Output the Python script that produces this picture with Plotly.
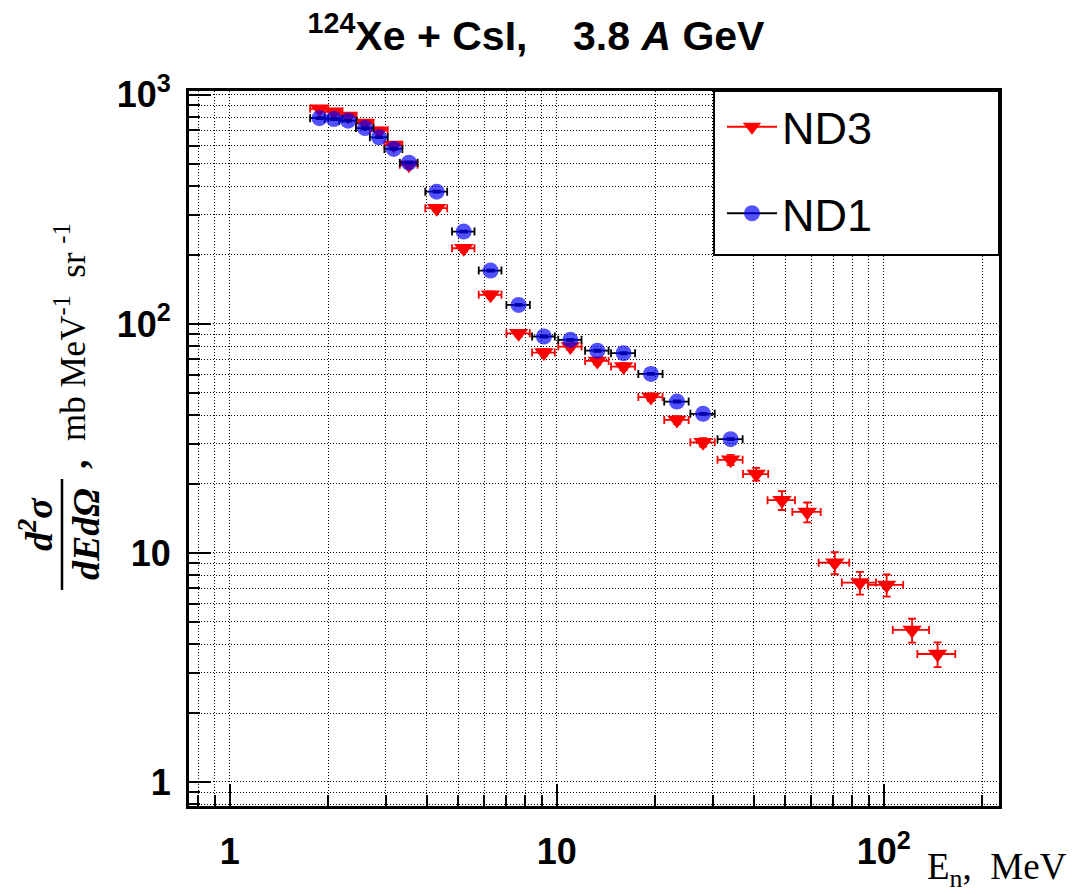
import plotly.graph_objects as go

# ---------------- data ----------------
nd3_x = [1.88, 2.08, 2.30, 2.59, 2.86, 3.17, 3.53, 4.29, 5.19, 6.27, 7.64, 9.13, 11.0, 13.3,
         16.0, 19.4, 23.3, 28.0, 34.0, 40.7, 48.8, 58.3, 70.8, 84.5, 102, 122, 146]
nd3_y = [869, 844, 809, 754, 698, 605, 495, 320, 214, 134, 91.0, 75.0, 79.6, 68.9,
         65.1, 47.9, 38.1, 30.4, 25.5, 22.1, 17.0, 15.1, 9.07, 7.42, 7.25, 4.61, 3.62]
nd3_ex = [0.12, 0.13, 0.14, 0.16, 0.18, 0.20, 0.22, 0.33, 0.41, 0.50, 0.63, 0.73, 0.90, 1.1,
          1.35, 1.65, 2.0, 2.4, 3.0, 3.6, 4.7, 5.8, 7.6, 10.1, 12.6, 15.5, 19.4]
nd3_ey = [25, 25, 24, 22, 21, 18, 15, 10, 7, 4.5, 3, 2.5, 2.6, 2.4,
          2.3, 1.8, 1.5, 1.3, 1.3, 1.4, 1.6, 1.5, 1.0, 0.85, 0.8, 0.55, 0.45]

nd1_x = [1.88, 2.08, 2.30, 2.59, 2.86, 3.17, 3.53, 4.29, 5.19, 6.27, 7.64, 9.13, 11.0, 13.3,
         16.0, 19.4, 23.3, 28.0, 34.0]
nd1_y = [791, 785, 772, 716, 653, 581, 506, 378, 253, 171, 121, 88.1, 85.2, 76.4,
         74.5, 60.5, 45.8, 40.5, 31.4]
nd1_ex = [0.12, 0.13, 0.14, 0.16, 0.18, 0.20, 0.22, 0.33, 0.41, 0.50, 0.63, 0.73, 0.90, 1.1,
          1.35, 1.65, 2.0, 2.4, 3.0]
nd1_ey = [8, 8, 8, 7, 6, 6, 5, 4, 2.5, 1.7, 1.2, 0.9, 0.9, 0.8, 0.8, 0.6, 0.5, 0.4, 0.3]

x_tickvals = [1, 10, 100]
x_ticktext = ["1", "10", "10<sup>2</sup>"]
y_tickvals = [1, 10, 100, 1000]
y_ticktext = ["1", "10", "10<sup>2</sup>", "10<sup>3</sup>"]

x_minor = [m * 10.0 ** e for e in range(-1, 3) for m in range(2, 10)]
y_minor = [m * 10.0 ** e for e in range(-1, 4) for m in range(2, 10)]

RED = "rgb(255,0,0)"
BLUE = "rgba(0,0,250,0.68)"
DOT = "1px,2px"

fig = go.Figure()

fig.add_trace(go.Scatter(
    x=nd3_x, y=nd3_y, mode="markers", showlegend=False,
    marker=dict(symbol="triangle-down", size=17, color=RED),
    error_x=dict(type="data", array=nd3_ex, color=RED, thickness=1.8, width=4),
    error_y=dict(type="data", array=nd3_ey, color=RED, thickness=1.8, width=4),
))
fig.add_trace(go.Scatter(
    x=nd1_x, y=nd1_y, mode="markers", showlegend=False,
    marker=dict(symbol="circle", size=16, color=BLUE),
    error_x=dict(type="data", array=nd1_ex, color="black", thickness=1.8, width=4),
    error_y=dict(type="data", array=nd1_ey, color="black", thickness=1.8, width=4),
))

# legend entries
fig.add_trace(go.Scatter(
    x=[None], y=[None], mode="lines+markers", name="ND3", legendgroup="a",
    line=dict(color=RED, width=2),
    marker=dict(symbol="triangle-down", size=16, color=RED),
))
fig.add_trace(go.Scatter(
    x=[None], y=[None], mode="lines+markers", name="ND1", legendgroup="b",
    line=dict(color="black", width=2),
    marker=dict(symbol="circle", size=16, color=BLUE),
))

axis_common = dict(
    type="log", ticks="inside", ticklen=22, tickwidth=2, tickcolor="black",
    showgrid=True, gridcolor="black", gridwidth=1, griddash=DOT,
    showline=True, linewidth=3, linecolor="black", mirror=True,
    zeroline=False,
    tickfont=dict(family="Liberation Sans", size=36, color="black", weight="bold"),
)

fig.update_layout(
    width=1073, height=894,
    margin=dict(l=189, r=74, t=91, b=88),
    paper_bgcolor="white", plot_bgcolor="white",
    xaxis=dict(range=[-0.1249, 2.3522], tickvals=x_tickvals, ticktext=x_ticktext,
               ticklabelstandoff=12,
               minor=dict(tickvals=x_minor, ticks="inside", ticklen=11, tickwidth=1.5,
                          tickcolor="black", showgrid=True, gridcolor="black",
                          gridwidth=1, griddash=DOT),
               **axis_common),
    yaxis=dict(range=[-0.105, 3.017], tickvals=y_tickvals, ticktext=y_ticktext,
               ticklabelstandoff=8,
               minor=dict(tickvals=y_minor, ticks="inside", ticklen=11, tickwidth=1.5,
                          tickcolor="black", showgrid=True, gridcolor="black",
                          gridwidth=1, griddash=DOT),
               **axis_common),
    title=dict(text="<sup>124</sup>Xe + CsI,\u00a0\u00a0\u00a0 3.8 <i>A</i> GeV",
               x=0.4995, xanchor="center", y=1 - 36 / 894, yanchor="middle",
               font=dict(family="Liberation Sans", size=41, color="black", weight="bold")),
    showlegend=True,
    legend=dict(x=0.658, y=1.0, xanchor="left", yanchor="top",
                bgcolor="rgba(0,0,0,0)", borderwidth=0,
                font=dict(family="Liberation Sans", size=45, color="black"),
                tracegroupgap=25, itemwidth=50),
)

# legend frame
fig.add_shape(type="rect", xref="paper", yref="paper",
              x0=(714 - 189) / 810, x1=1.0, y0=(806 - 255) / 715, y1=1.0,
              line=dict(color="black", width=2), fillcolor="white", layer="above")

# y-axis title pieces
serif = "Liberation Serif"
fig.add_annotation(xref="paper", yref="paper", x=(36 - 189) / 810, y=(806 - 524) / 715,
                   text="<i>d<sup>2</sup>σ</i>", textangle=-90, showarrow=False,
                   xanchor="center", yanchor="middle",
                   font=dict(family=serif, size=38, color="black", weight="bold"))
fig.add_shape(type="line", xref="paper", yref="paper",
              x0=(62 - 189) / 810, x1=(62 - 189) / 810,
              y0=(806 - 479) / 715, y1=(806 - 590) / 715,
              line=dict(color="black", width=2.5))
fig.add_annotation(xref="paper", yref="paper", x=(86 - 189) / 810, y=(806 - 534) / 715,
                   text="<i>dEdΩ</i>", textangle=-90, showarrow=False,
                   xanchor="center", yanchor="middle",
                   font=dict(family=serif, size=38, color="black", weight="bold"))
fig.add_annotation(xref="paper", yref="paper", x=(74 - 189) / 810, y=(806 - 464) / 715,
                   text=",", textangle=-90, showarrow=False,
                   xanchor="center", yanchor="middle",
                   font=dict(family=serif, size=38, color="black", weight="bold"))
fig.add_annotation(xref="paper", yref="paper", x=(70 - 189) / 810, y=(806 - 332) / 715,
                   text="mb MeV<sup>-1</sup>\u00a0 sr <sup>-1</sup>", textangle=-90,
                   showarrow=False, xanchor="center", yanchor="middle",
                   font=dict(family=serif, size=35, color="black"))

# x-axis title
fig.add_annotation(xref="paper", yref="paper", x=(1068 - 189) / 810, y=(806 - 894) / 715,
                   text="E<sub>n</sub>,\u00a0 MeV", showarrow=False, borderpad=0,
                   xanchor="right", yanchor="bottom",
                   font=dict(family=serif, size=37, color="black"))

fig.write_html("out.html")
